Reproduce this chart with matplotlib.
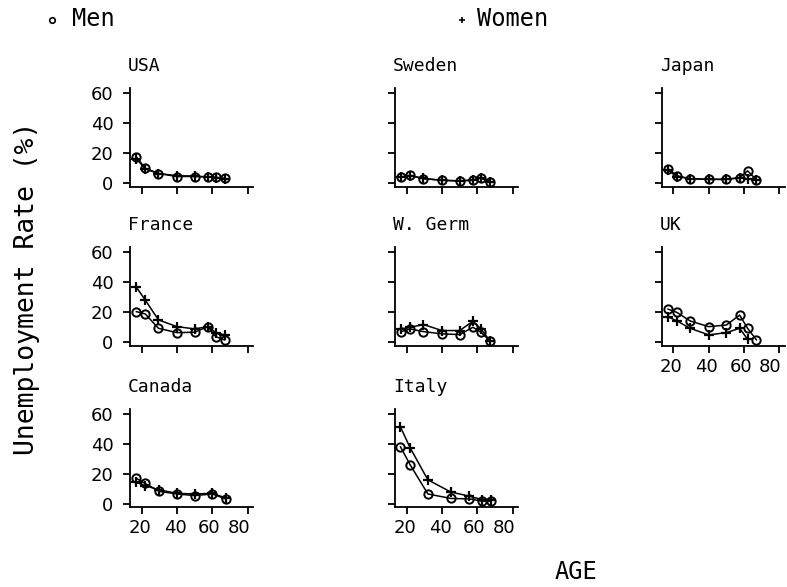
import matplotlib
matplotlib.use("Agg")
import matplotlib.pyplot as plt
from matplotlib.lines import Line2D
import matplotlib.transforms as mtransforms

# ---- data ----
ages8 = [17, 22, 29.5, 40, 50, 57.5, 62, 67]
ages_canada = [17, 22, 30, 40, 50, 60, 67.5]
ages_italy = [16.5, 22, 32, 45, 55.5, 62.5, 67.5]
ages_uk_women = [17, 22, 29.5, 40, 50, 57.5, 62]

usa_men = [17.5, 10, 6.5, 4.5, 4.5, 4.2, 4, 3.2]
usa_women = [16.5, 9.5, 6.5, 5, 4.8, 4.2, 3.8, 3]
sweden_men = [4.2, 5.3, 3, 2, 1.5, 2.2, 3.8, 1]
sweden_women = [4, 5, 3.2, 2, 1.6, 2.1, 3.5, 0.9]
japan_men = [9.5, 5, 3, 2.6, 2.6, 3.7, 8.3, 2.2]
japan_women = [8.8, 4.5, 3, 2.6, 2.6, 3.7, 2.8, 2.4]
france_men = [20.4, 18.9, 9.3, 6.4, 6.7, 10.4, 3.7, 1.5]
france_women = [36.7, 28.2, 14.9, 10.4, 8.9, 10.4, 6.4, 4.9]
wgerm_men = [7.1, 8.9, 7.1, 5.6, 5.1, 10, 6.7, 1.1]
wgerm_women = [8.9, 10, 11.8, 7.8, 7.8, 14, 8.9, 1.1]
uk_men = [22.1, 19.9, 14.2, 10.4, 11.5, 18.1, 9.3, 1.6]
uk_women = [17, 14.2, 9.3, 4.9, 6.4, 9.3, 2]
canada_men = [17, 13.6, 8.3, 6.6, 5.5, 6.6, 3.3]
canada_women = [14.3, 12.1, 9.3, 7, 6.6, 7, 4]
italy_men = [38, 26, 6.6, 3.6, 3.3, 1.8, 1.8]
italy_women = [51.2, 37.3, 16, 7.9, 5.1, 2.9, 2.9]

panels = [
    ("USA", ages8, usa_men, ages8, usa_women, 0, 0),
    ("Sweden", ages8, sweden_men, ages8, sweden_women, 0, 1),
    ("Japan", ages8, japan_men, ages8, japan_women, 0, 2),
    ("France", ages8, france_men, ages8, france_women, 1, 0),
    ("W. Germ", ages8, wgerm_men, ages8, wgerm_women, 1, 1),
    ("UK", ages8, uk_men, ages_uk_women, uk_women, 1, 2),
    ("Canada", ages_canada, canada_men, ages_canada, canada_women, 2, 0),
    ("Italy", ages_italy, italy_men, ages_italy, italy_women, 2, 1),
]
yticks = [0, 20, 40, 60]
xticks = [20, 40, 60, 80]

W, H = 787, 587
fig = plt.figure(figsize=(W / 100, H / 100), dpi=100)

col_left = [130, 395, 661.7]
row_bottom = [186.7, 345.7, 507.3]
aw, ah = 123, 98.7

mono = "DejaVu Sans Mono"
bottom_row = {(2, 0), (2, 1), (1, 2)}
xlabel_shift_px = [-2, -2, -3, -9]

for name, xm, ym, xw, yw, r, c in panels:
    ax = fig.add_axes([col_left[c] / W, 1 - row_bottom[r] / H, aw / W, ah / H])
    ax.plot(xw, yw, color="black", lw=1.1, marker="+", ms=6.5, mew=1.6)
    ax.plot(xm, ym, color="black", lw=1.1, marker="o", ms=6, mfc="none", mew=1.4)
    ax.set_xlim(13.4, 83)
    ax.set_ylim(-2.3, 63.5)
    for s in ["top", "right"]:
        ax.spines[s].set_visible(False)
    for s in ["left", "bottom"]:
        ax.spines[s].set_linewidth(1.3)
    ax.set_xticks(xticks)
    ax.set_yticks(yticks)
    ax.tick_params(direction="out", length=5, width=1.3, labelsize=13, pad=3.5)
    ax.tick_params(axis="y", pad=7)
    if c != 0:
        ax.set_yticklabels([])
    if (r, c) not in bottom_row:
        ax.set_xticklabels([])
    else:
        for lab, dx in zip(ax.get_xticklabels(), xlabel_shift_px):
            lab.set_transform(lab.get_transform() +
                              mtransforms.ScaledTranslation(dx / 100, 0, fig.dpi_scale_trans))
    ax.annotate(name, xy=(0, 1), xycoords="axes fraction", xytext=(-1.5, 12),
                textcoords="offset points", ha="left", va="baseline",
                fontsize=13, family=mono)

fig.text(27 / W, 1 - 288 / H, "Unemployment Rate (%)", rotation=90,
         ha="center", va="center", fontsize=19, family=mono)
fig.text(576 / W, 1 - 572 / H, "AGE", ha="center", va="center",
         fontsize=17, family=mono)

# legend
fig.add_artist(Line2D([52 / W], [1 - 20 / H], marker="o", ms=4, mfc="none",
                      mec="black", mew=1.2, ls="none"))
fig.text(72 / W, 1 - 19 / H, "Men", ha="left", va="center", fontsize=17, family=mono)
fig.add_artist(Line2D([462 / W], [1 - 20 / H], marker="+", ms=4, mec="black",
                      mew=1.2, ls="none"))
fig.text(477 / W, 1 - 19 / H, "Women", ha="left", va="center", fontsize=17, family=mono)

fig.savefig("out.png", dpi=100)
